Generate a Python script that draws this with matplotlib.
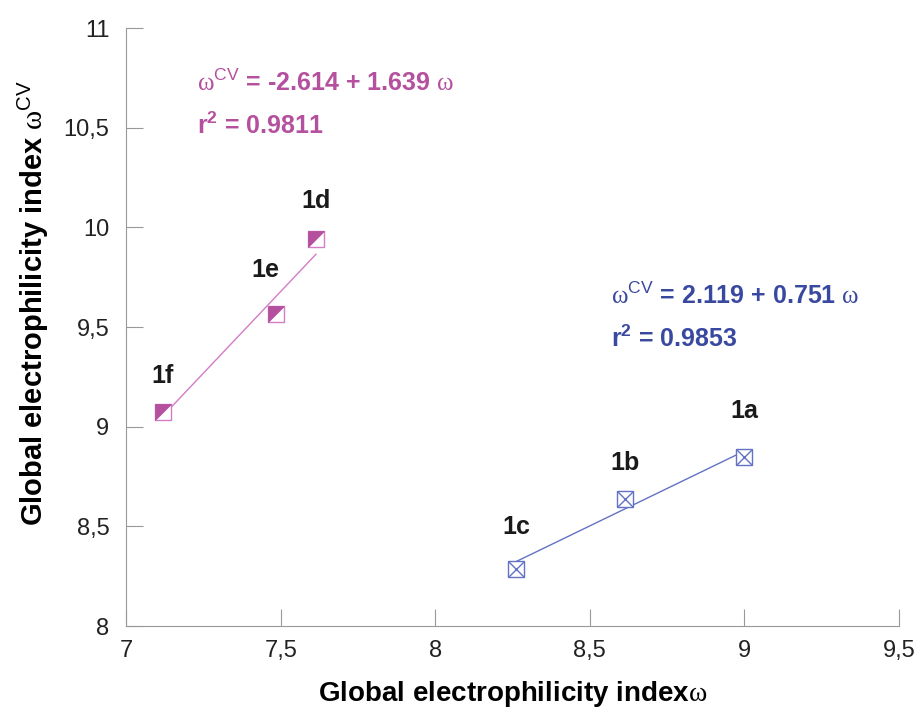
import matplotlib.pyplot as plt
import numpy as np

# data
mag_names = ["1d", "1e", "1f"]
mag_x = [7.614, 7.485, 7.119]
mag_y = [9.94, 9.568, 9.076]
mag_fit = (-2.614, 1.639)

blue_names = ["1a", "1b", "1c"]
blue_x = [9.0, 8.613, 8.261]
blue_y = [8.848, 8.637, 8.286]
blue_fit = (2.119, 0.751)

xticks = [7, 7.5, 8, 8.5, 9, 9.5]
yticks = [8, 8.5, 9, 9.5, 10, 10.5, 11]

MAG = "#b4509e"
MAG_LIGHT = "#d47cc6"
BLUE = "#3949a0"
BLUE_LIGHT = "#6272c4"

plt.rcParams['font.family'] = ['Liberation Sans', 'DejaVu Sans']
plt.rcParams['mathtext.fontset'] = 'custom'
plt.rcParams['mathtext.rm'] = 'Liberation Serif'
plt.rcParams['mathtext.sf'] = 'Liberation Sans'
plt.rcParams['mathtext.bf'] = 'Liberation Sans:bold'

fig = plt.figure(figsize=(9.14, 7.11), dpi=100)
ax = fig.add_axes([0.138, 0.1195, 0.8456, 0.841])

# fitted lines
xm = np.array([min(mag_x), max(mag_x)])
ax.plot(xm, mag_fit[0] + mag_fit[1] * xm, color=MAG_LIGHT, lw=1, zorder=2)
xb = np.array([min(blue_x), max(blue_x)])
ax.plot(xb, blue_fit[0] + blue_fit[1] * xb, color=BLUE_LIGHT, lw=1, zorder=2)

# half-filled squares
ax.plot(mag_x, mag_y, ls="none", marker="s", ms=11.5, mfc="white", mec=MAG_LIGHT, mew=1, zorder=3)
tri = [(-1, -1), (-1, 1), (1, 1), (-1, -1)]
ax.plot(mag_x, mag_y, ls="none", marker=tri, ms=11.5, mfc=MAG, mec=MAG, mew=0.5, zorder=4)

# crossed squares
ax.plot(blue_x, blue_y, ls="none", marker="s", ms=11.5, mfc="white", mec=BLUE_LIGHT, mew=1, zorder=3)
ax.plot(blue_x, blue_y, ls="none", marker="x", ms=11.5, mec=BLUE_LIGHT, mew=1, zorder=4)

# point labels
lab_off = {"1d": (0, 0.19), "1e": (-0.035, 0.22), "1f": (0.0, 0.18),
           "1a": (0.0, 0.23), "1b": (0.0, 0.18), "1c": (0.0, 0.21)}
for n, x, y in zip(mag_names + blue_names, mag_x + blue_x, mag_y + blue_y):
    dx, dy = lab_off[n]
    ax.text(x + dx, y + dy, n, ha="center", va="center", fontsize=18,
            fontweight="bold", color="#1a1a1a")

# equations
def eq(x, y, a, b, r2, color):
    ax.text(x, y, r"$\mathrm{\omega}^{\mathsf{CV}}$" + " = %.3f + %.3f " % (a, b) + r"$\mathrm{\omega}$",
            fontsize=18, fontweight="bold", color=color, va="baseline")
    ax.text(x, y - 0.215, r"r$^{\mathbf{2}}$" + " = %.4f" % r2, fontsize=18,
            fontweight="bold", color=color, va="baseline")

eq(7.23, 10.685, mag_fit[0], mag_fit[1], 0.9811, MAG)
eq(8.57, 9.615, blue_fit[0], blue_fit[1], 0.9853, BLUE)

ax.set_xlim(7, 9.5)
ax.set_ylim(8, 11)
ax.set_xticks(xticks)
ax.set_yticks(yticks)
ax.set_xticklabels([str(t).replace(".", ",").replace(",0", "") for t in xticks], fontsize=17, color="#222222")
ax.set_yticklabels([str(t).replace(".", ",").replace(",0", "") for t in yticks], fontsize=17, color="#222222")
ax.tick_params(direction="in", length=12, color="#999999", pad=10)
ax.tick_params(axis="y", pad=12)
for s in ["top", "right"]:
    ax.spines[s].set_visible(False)
for s in ["left", "bottom"]:
    ax.spines[s].set_color("#999999")

ax.set_xlabel("Global electrophilicity index" + r"$\mathrm{\omega}$", fontsize=20, fontweight="bold", labelpad=12)
ax.set_ylabel("Global electrophilicity index " + r"$\mathrm{\omega}^{\mathsf{CV}}$", fontsize=21,
              fontweight="bold")
ax.yaxis.set_label_coords(-0.097, 0.54)

fig.savefig("out.png", dpi=100)
